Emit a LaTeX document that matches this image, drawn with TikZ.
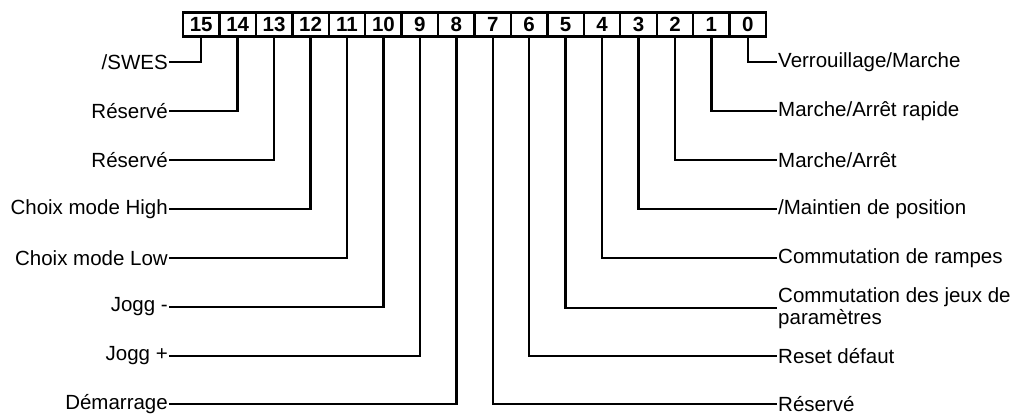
\documentclass[tikz,border=0pt]{standalone}
\usepackage{fontspec}
\setmainfont{Liberation Sans}
\begin{document}
\begin{tikzpicture}[x=1pt,y=-1pt,
  cell/.style={draw,line width=2.4pt,minimum width=36.44pt,minimum height=24pt,inner sep=0pt,font=\fontsize{20.5}{22}\selectfont\bfseries},
  lab/.style={inner sep=1pt,font=\fontsize{20.5}{21.5}\selectfont},
  lead/.style={line width=2.4pt}]
\useasboundingbox (0,0) rectangle (1011,414);
\foreach \b in {0,...,15}{
  \node[cell] (c\b) at ({183+(15-\b+0.5)*36.44},24.5) {\b};
}
% left labels
\node[lab,anchor=east] (l15) at (169,62) {/SWES};
\node[lab,anchor=east] (l14) at (169,111) {Réservé};
\node[lab,anchor=east] (l13) at (169,160) {Réservé};
\node[lab,anchor=east] (l12) at (169,209) {Choix mode High};
\node[lab,anchor=east] (l11) at (169,258) {Choix mode Low};
\node[lab,anchor=east] (l10) at (169,307) {Jogg -};
\node[lab,anchor=east] (l9) at (169,356) {Jogg +};
\node[lab,anchor=east] (l8) at (169,404) {Démarrage};
% right labels
\node[lab,anchor=west] (l0) at (777,62) {Verrouillage/Marche};
\node[lab,anchor=west] (l1) at (777,111) {Marche/Arrêt rapide};
\node[lab,anchor=west] (l2) at (777,160) {Marche/Arrêt};
\node[lab,anchor=west] (l3) at (777,209) {/Maintien de position};
\node[lab,anchor=west] (l4) at (777,258) {Commutation de rampes};
\node[lab,anchor=west,align=left] (l5) at (777,308) {Commutation des jeux de\\paramètres};
\node[lab,anchor=west] (l6) at (777,356) {Reset défaut};
\node[lab,anchor=west] (l7) at (777,404) {Réservé};
\foreach \b in {8,...,15}{
  \draw[lead] (c\b.south) |- (l\b.east);
}
\foreach \b in {0,...,7}{
  \draw[lead] (c\b.south) |- (l\b.west);
}
\end{tikzpicture}
\end{document}
